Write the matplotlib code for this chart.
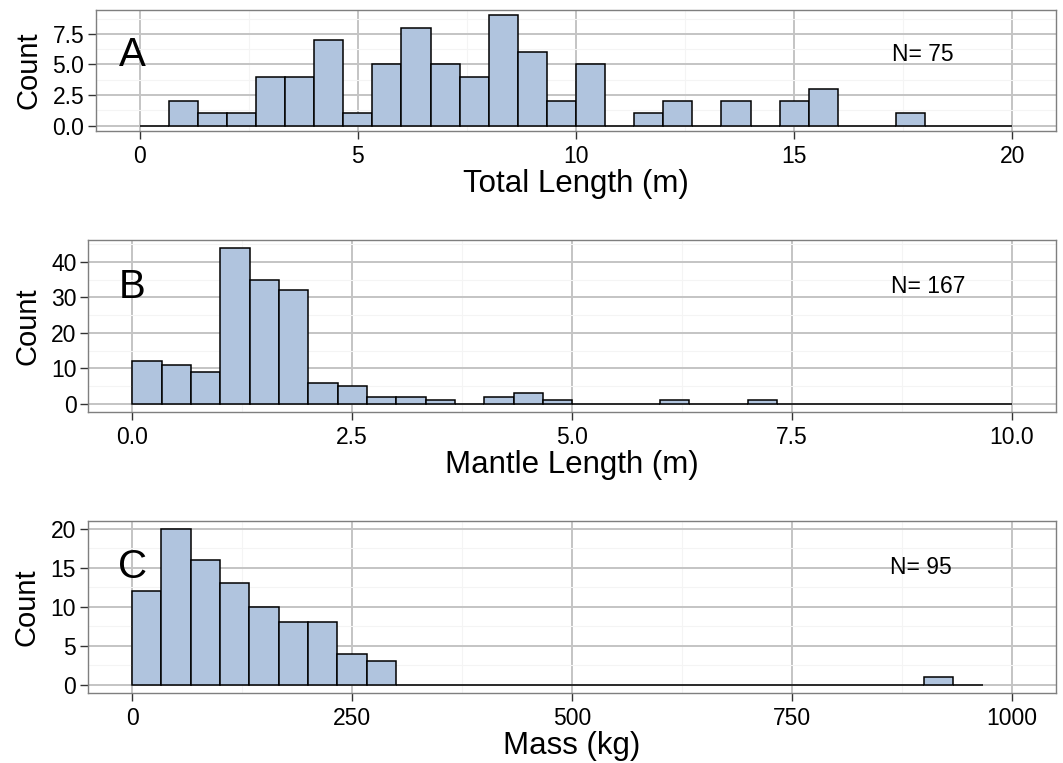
import matplotlib
matplotlib.use("Agg")
from matplotlib import pyplot as plt
import numpy as np

plt.rcParams['font.family'] = ['Liberation Sans', 'DejaVu Sans']

# histogram counts (bins start at 0)
total_length_counts = [0, 2, 1, 1, 4, 4, 7, 1, 5, 8, 5, 4, 9, 6, 2, 5,
                       0, 1, 2, 0, 2, 0, 2, 3, 0, 0, 1, 0, 0, 0]
total_length_binwidth = 20 / 30

mantle_length_counts = [12, 11, 9, 44, 35, 32, 6, 5, 2, 2, 1, 0, 2, 3, 1,
                        0, 0, 0, 1, 0, 0, 1, 0, 0, 0, 0, 0, 0, 0, 0]
mantle_length_binwidth = 10 / 30

mass_counts = [12, 20, 16, 13, 10, 8, 8, 4, 3, 0, 0, 0, 0, 0, 0,
               0, 0, 0, 0, 0, 0, 0, 0, 0, 0, 0, 0, 1, 0]
mass_binwidth = 1000 / 30

letters = ["A", "B", "C"]
n_labels = ["N= 75", "N= 167", "N= 95"]
x_titles = ["Total Length (m)", "Mantle Length (m)", "Mass (kg)"]
x_ticks = [[0, 5, 10, 15, 20], [0, 2.5, 5, 7.5, 10], [0, 250, 500, 750, 1000]]
x_ticklabels = [["0", "5", "10", "15", "20"],
                ["0.0", "2.5", "5.0", "7.5", "10.0"],
                ["0", "250", "500", "750", "1000"]]
y_ticks = [[0, 2.5, 5, 7.5], [0, 10, 20, 30, 40], [0, 5, 10, 15, 20]]
y_ticklabels = [["0.0", "2.5", "5.0", "7.5"],
                ["0", "10", "20", "30", "40"],
                ["0", "5", "10", "15", "20"]]

panels = [
    (total_length_counts, total_length_binwidth, (-1.0, 21.0), (-0.45, 9.45)),
    (mantle_length_counts, mantle_length_binwidth, (-0.5, 10.5), (-2.2, 46.2)),
    (mass_counts, mass_binwidth, (-50, 1050), (-1.0, 21.0)),
]

# axes rectangles in figure fractions
rects = [
    [0.0903, 0.8283, 0.9031, 0.1586],
    [0.0831, 0.4604, 0.9103, 0.2254],
    [0.0828, 0.0921, 0.9106, 0.2254],
]
letter_pos = [(0.0377, 0.63), (0.0457, 0.728), (0.0463, 0.731)]

fill = "#B0C4DE"
grid_major = "#C4C4C4"
grid_minor = "#F4F4F4"

fig = plt.figure(figsize=(10.63, 7.63), dpi=100)

for i, (counts, bw, xlim, ylim) in enumerate(panels):
    ax = fig.add_axes(rects[i])
    edges = np.arange(len(counts)) * bw
    ax.bar(edges, counts, width=bw, align="edge", color=fill,
           edgecolor="black", linewidth=1.1, zorder=3)

    ax.set_xticks(x_ticks[i])
    ax.set_xticklabels(x_ticklabels[i])
    ax.set_yticks(y_ticks[i])
    ax.set_yticklabels(y_ticklabels[i])

    # minor grid halfway between majors
    xt = x_ticks[i]
    yt = y_ticks[i]
    xm = [(a + b) / 2 for a, b in zip(xt[:-1], xt[1:])]
    ym = [(a + b) / 2 for a, b in zip(yt[:-1], yt[1:])] + [yt[-1] + (yt[1] - yt[0]) / 2]
    ax.set_xticks(xm, minor=True)
    ax.set_yticks(ym, minor=True)
    ax.set_xlim(*xlim)
    ax.set_ylim(*ylim)

    ax.tick_params(which="minor", length=0)
    ax.grid(which="major", color=grid_major, linewidth=1.4, zorder=0)
    ax.grid(which="minor", color=grid_minor, linewidth=0.8, zorder=0)
    ax.set_axisbelow(True)

    ax.tick_params(which="major", direction="out", length=5.5, width=1.0,
                   color="#333333", labelsize=16.5, labelcolor="black", pad=3)
    ax.tick_params(axis="x", which="major", pad=4.5)
    for s in ax.spines.values():
        s.set_color("#7F7F7F")
        s.set_linewidth(1.0)

    ax.set_xlabel(x_titles[i], fontsize=22.5, labelpad=1)
    ax.set_ylabel("Count", fontsize=21, labelpad=7)

    ax.text(letter_pos[i][0], letter_pos[i][1], letters[i], transform=ax.transAxes,
            fontsize=29, ha="center", va="center", zorder=5)
    ax.text(0.829, letter_pos[i][1], n_labels[i], transform=ax.transAxes,
            fontsize=16.5, ha="left", va="center", zorder=5)

fig.savefig("out.png", dpi=100)
